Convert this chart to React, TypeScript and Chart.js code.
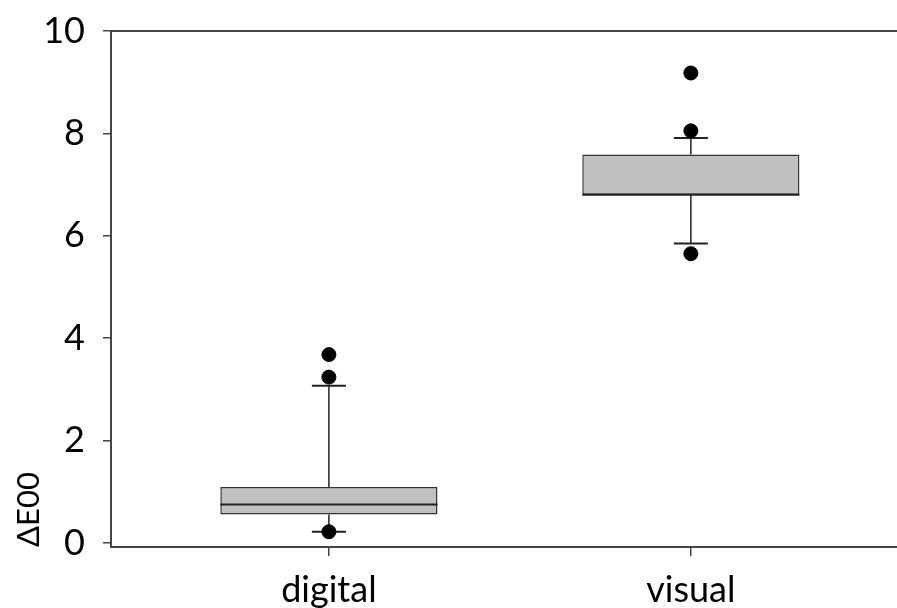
import React, { useEffect, useRef } from "react";
import { Chart, registerables } from "chart.js";

Chart.register(...registerables);

const categories = ["digital", "visual"];
const positions = [1, 2];
const q1Values = [0.555, 6.8];
const q3Values = [1.094, 7.586];
const medianValues = [0.75, 6.8];
const whiskerLowValues = [0.22, 5.85];
const whiskerHighValues = [3.07, 7.91];
const outlierPositions = [1, 1, 1, 2, 2, 2];
const outlierValues = [3.68, 3.24, 0.22, 9.18, 8.05, 5.65];
const yTickValues = [0, 2, 4, 6, 8, 10];

const X_MIN = 0.398;
const X_MAX = 2.5695;
const Y_MIN = -0.078;
const Y_MAX = 10;
const CAP_WIDTH = 0.094; // in x units
const FONT = "Lato, 'Open Sans', sans-serif";
const AXIS_COLOR = "#444444";

const zeroPadding = (scale: any) => {
  scale.paddingTop = 0;
  scale.paddingBottom = 0;
  scale.paddingLeft = 0;
  scale.paddingRight = 0;
};

const boxPlugin = {
  id: "boxWhiskers",
  beforeDatasetsDraw(chart: any) {
    const { ctx, scales } = chart;
    const x = scales.x;
    const y = scales.y;
    const unit = Math.abs(x.getPixelForValue(1) - x.getPixelForValue(0));
    ctx.save();
    ctx.strokeStyle = "#222222";
    ctx.lineWidth = 1.5;
    positions.forEach((p, i) => {
      const px = x.getPixelForValue(p);
      const half = (unit * CAP_WIDTH) / 2;
      const yHi = y.getPixelForValue(whiskerHighValues[i]);
      const yLo = y.getPixelForValue(whiskerLowValues[i]);
      const yQ3 = y.getPixelForValue(q3Values[i]);
      const yQ1 = y.getPixelForValue(q1Values[i]);
      ctx.beginPath();
      ctx.moveTo(px, yHi);
      ctx.lineTo(px, yQ3);
      ctx.moveTo(px, yQ1);
      ctx.lineTo(px, yLo);
      ctx.stroke();
      ctx.lineWidth = 2;
      ctx.beginPath();
      ctx.moveTo(px - half, yHi);
      ctx.lineTo(px + half, yHi);
      ctx.moveTo(px - half, yLo);
      ctx.lineTo(px + half, yLo);
      ctx.stroke();
      ctx.lineWidth = 1.5;
    });
    ctx.restore();
  },
  afterDatasetsDraw(chart: any) {
    const { ctx, scales } = chart;
    const y = scales.y;
    const meta = chart.getDatasetMeta(0);
    ctx.save();
    ctx.strokeStyle = "#222222";
    ctx.lineWidth = 2;
    meta.data.forEach((bar: any, i: number) => {
      const w = bar.width;
      const ym = y.getPixelForValue(medianValues[i]);
      ctx.beginPath();
      ctx.moveTo(bar.x - w / 2, ym);
      ctx.lineTo(bar.x + w / 2, ym);
      ctx.stroke();
    });
    ctx.restore();
  },
};

export default function App() {
  const canvasRef = useRef<HTMLCanvasElement | null>(null);

  useEffect(() => {
    if (!canvasRef.current) return;
    const chart = new Chart(canvasRef.current, {
      type: "bar",
      data: {
        datasets: [
          {
            type: "bar",
            label: "box",
            data: positions.map((p, i) => ({ x: p, y: [q1Values[i], q3Values[i]] })) as any,
            backgroundColor: "#c0c0c0",
            borderColor: "#333333",
            borderWidth: 1.5,
            borderSkipped: false,
            categoryPercentage: 1,
            barPercentage: 0.6,
          },
          {
            type: "scatter",
            label: "outliers",
            data: outlierPositions.map((p, i) => ({ x: p, y: outlierValues[i] })),
            backgroundColor: "#000000",
            borderColor: "#000000",
            pointRadius: 7,
            pointHoverRadius: 7,
          },
        ] as any,
      },
      options: {
        animation: false,
        responsive: true,
        maintainAspectRatio: false,
        layout: { autoPadding: false, padding: { top: 31, left: 0, right: 0, bottom: 0 } },
        plugins: {
          legend: { display: false },
          tooltip: { enabled: false },
        },
        scales: {
          x: {
            type: "linear",
            position: "bottom",
            offset: false,
            min: X_MIN,
            max: X_MAX,
            afterBuildTicks: (scale: any) => {
              scale.ticks = positions.map((v) => ({ value: v }));
            },
            afterFit: (scale: any) => {
              scale.height = 61;
              zeroPadding(scale);
            },
            ticks: {
              color: "#000000",
              font: { family: FONT, size: 36 },
              padding: 13,
              maxRotation: 0,
              autoSkip: false,
              callback: (v: any) => {
                const idx = positions.indexOf(Number(v));
                return idx >= 0 ? categories[idx] : "";
              },
            },
            grid: {
              display: true,
              offset: false,
              drawOnChartArea: false,
              drawTicks: true,
              tickLength: 9,
              color: AXIS_COLOR,
              lineWidth: 1.5,
            },
            border: { display: true, color: AXIS_COLOR, width: 2 },
          },
          x2: {
            type: "linear",
            position: "top",
            offset: false,
            min: X_MIN,
            max: X_MAX,
            ticks: { display: false },
            afterFit: (scale: any) => {
              scale.height = 0;
              zeroPadding(scale);
            },
            grid: { display: true, offset: false, drawOnChartArea: false, drawTicks: false, color: AXIS_COLOR },
            border: { display: true, color: AXIS_COLOR, width: 2 },
          },
          y: {
            type: "linear",
            position: "left",
            min: Y_MIN,
            max: Y_MAX,
            afterBuildTicks: (scale: any) => {
              scale.ticks = yTickValues.map((v) => ({ value: v }));
            },
            afterFit: (scale: any) => {
              scale.width = 111;
              zeroPadding(scale);
            },
            ticks: {
              color: "#000000",
              font: { family: FONT, size: 36 },
              padding: 18,
              callback: (v: any) => String(v),
            },
            grid: {
              display: true,
              drawOnChartArea: false,
              drawTicks: true,
              tickLength: 8,
              color: AXIS_COLOR,
              lineWidth: 1.5,
            },
            border: { display: true, color: AXIS_COLOR, width: 2 },
            title: {
              display: true,
              text: "ΔE00",
              align: "start",
              color: "#000000",
              font: { family: FONT, size: 31 },
              padding: { top: 10, bottom: 0 },
            },
          },
        },
      } as any,
      plugins: [boxPlugin],
    });
    return () => chart.destroy();
  }, []);

  return (
    <div style={{ position: "absolute", left: 0, top: 0, width: 897, height: 608, background: "#ffffff" }}>
      <canvas ref={canvasRef} />
    </div>
  );
}
